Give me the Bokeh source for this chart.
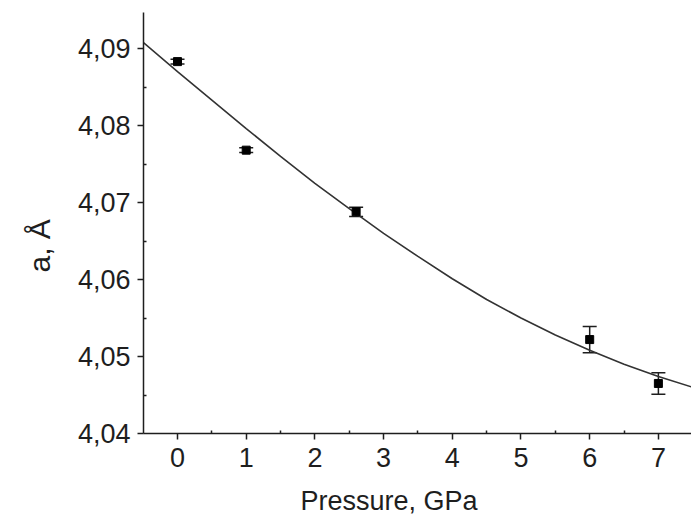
from bokeh.plotting import figure
from bokeh.models import (ColumnDataSource, Whisker, TeeHead, FixedTicker,
                          CustomJSTickFormatter, Range1d, Title)
from bokeh.embed import file_html
from bokeh.resources import INLINE

# measured points
pressure = [0.0, 1.0, 2.6, 6.0, 7.0]
a_val = [4.0883, 4.0768, 4.0688, 4.0522, 4.0465]
a_err = [0.0003, 0.0003, 0.0006, 0.0017, 0.0014]

# fitted curve
fit_p = [-0.5, 0.0, 0.5, 1.0, 1.5, 2.0, 2.5, 3.0, 3.5, 4.0, 4.5, 5.0, 5.5, 6.0, 6.5, 7.0, 7.5]
fit_a = [4.0908, 4.0870, 4.0833, 4.0796, 4.0760, 4.0725, 4.0692, 4.0660, 4.0630,
         4.0601, 4.0574, 4.0550, 4.0528, 4.0508, 4.0490, 4.0474, 4.0460]

x_ticks = [0, 1, 2, 3, 4, 5, 6, 7]
x_minor = [0.5, 1.5, 2.5, 3.5, 4.5, 5.5, 6.5]
y_ticks = [4.04, 4.05, 4.06, 4.07, 4.08, 4.09]
y_minor = [4.045, 4.055, 4.065, 4.075, 4.085]

x_label = "Pressure, GPa"
y_label = "a, Å"

FONT = "Liberation Sans"
INK = "#1e1e1e"

p = figure(width=691, height=532, output_backend="svg", toolbar_location=None,
           x_range=Range1d(-0.495, 7.482), y_range=Range1d(4.04, 4.09468),
           min_border_left=143, min_border_top=12, min_border_right=0,
           min_border_bottom=99)
p.outline_line_color = None
p.xgrid.visible = False
p.ygrid.visible = False
p.background_fill_color = "white"

for ax in (p.xaxis[0], p.yaxis[0]):
    ax.axis_line_color = INK
    ax.axis_line_width = 1.5
    ax.major_tick_line_color = INK
    ax.major_tick_line_width = 1.5
    ax.minor_tick_line_color = INK
    ax.minor_tick_line_width = 1.5
    ax.major_tick_out = 6
    ax.major_tick_in = 0
    ax.minor_tick_out = 0
    ax.minor_tick_in = 3
    ax.major_label_text_font = FONT
    ax.major_label_text_font_size = "27px"
    ax.major_label_text_color = INK

p.xaxis.ticker = FixedTicker(ticks=x_ticks, minor_ticks=x_minor)
p.yaxis.ticker = FixedTicker(ticks=y_ticks, minor_ticks=y_minor)
p.yaxis.formatter = CustomJSTickFormatter(code="return tick.toFixed(2).replace('.', ',');")
p.xaxis.formatter = CustomJSTickFormatter(code="return tick.toFixed(0);")
p.xaxis.major_label_standoff = 8
p.yaxis.major_label_standoff = 7

# axis titles as offset titles (label in the original is not centred on the frame)
xt = Title(text=x_label, align="left", offset=157, standoff=29,
           text_font=FONT, text_font_size="27px", text_font_style="normal",
           text_color=INK)
p.add_layout(xt, "below")
yt = Title(text=y_label, align="left", offset=161, standoff=37,
           text_font=FONT, text_font_size="30px", text_font_style="normal",
           text_color=INK)
p.add_layout(yt, "left")

# fit curve
p.line(fit_p, fit_a, line_color="#333333", line_width=1.6)

# data with error bars
src = ColumnDataSource(dict(
    p=pressure, a=a_val,
    upper=[v + e for v, e in zip(a_val, a_err)],
    lower=[v - e for v, e in zip(a_val, a_err)],
))
w = Whisker(base="p", upper="upper", lower="lower", source=src, dimension="height",
            line_color=INK, line_width=1.5,
            upper_head=TeeHead(size=14, line_color=INK, line_width=1.5),
            lower_head=TeeHead(size=14, line_color=INK, line_width=1.5))
p.add_layout(w)
p.scatter("p", "a", source=src, marker="square", size=8, color="black")

open("out.html", "w").write(file_html(p, INLINE))
